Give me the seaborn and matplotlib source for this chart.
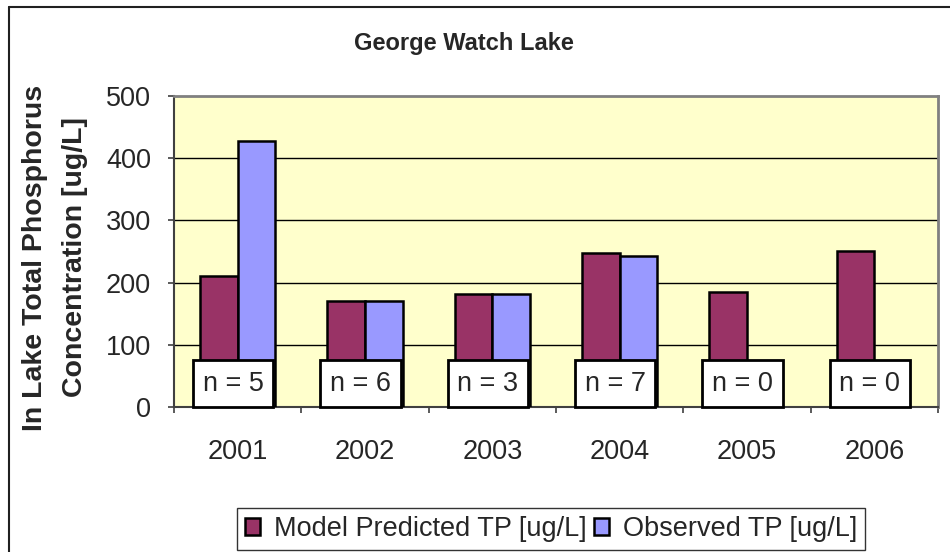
import numpy as np
import pandas as pd
import matplotlib
matplotlib.use("Agg")
import matplotlib.pyplot as plt
from matplotlib.patches import Rectangle
from matplotlib.lines import Line2D
import seaborn as sns

# --- data -------------------------------------------------------------
years = ["2001", "2002", "2003", "2004", "2005", "2006"]
model_tp = [210, 170, 181, 247, 185, 251]
observed_tp = [428, 170, 181, 243, np.nan, np.nan]
n_obs = [5, 6, 3, 7, 0, 0]
series_names = ["Model Predicted TP [ug/L]", "Observed TP [ug/L]"]
y_ticks = [0, 100, 200, 300, 400, 500]

df = pd.DataFrame({
    "year": years * 2,
    "value": model_tp + observed_tp,
    "series": [series_names[0]] * len(years) + [series_names[1]] * len(years),
})

# --- style ------------------------------------------------------------
sns.set_style("white")
plt.rcParams["font.family"] = ["Liberation Sans", "DejaVu Sans"]

MAROON = "#993366"
PERIWINKLE = "#9999FF"
PLOT_BG = "#FFFFCC"

fig = plt.figure(figsize=(9.5, 5.52), dpi=100)
W, H = 950, 552
ax = fig.add_axes([174 / W, 1 - 407 / H, (938 - 174) / W, (407 - 96) / H])
ax.set_facecolor(PLOT_BG)

sns.barplot(
    data=df, x="year", y="value", hue="series", hue_order=series_names,
    order=years, palette=[MAROON, PERIWINKLE], saturation=1,
    width=0.59, edgecolor="black", linewidth=1.8, errorbar=None, ax=ax,
    zorder=3,
)

ax.set_xlim(-0.5, len(years) - 0.5)
ax.set_ylim(0, 500)
ax.set_xlabel("")
ax.set_ylabel("")

# horizontal gridlines
for v in y_ticks[1:-1]:
    ax.axhline(v, color="black", lw=1.0, zorder=1)

# spines
for side in ("top", "right"):
    ax.spines[side].set_color("#808080")
    ax.spines[side].set_linewidth(2)
for side in ("left", "bottom"):
    ax.spines[side].set_color("#404040")
    ax.spines[side].set_linewidth(1.5)

# y axis
ax.set_yticks(y_ticks)
ax.set_yticklabels([str(t) for t in y_ticks], fontsize=19.5)
ax.tick_params(axis="y", direction="out", length=4.5, width=1.2,
               color="#404040", pad=12, left=True)

# x axis: ticks between categories, labels at category centres
ax.set_xticks(np.arange(-0.5, len(years), 1.0))
ax.set_xticklabels([])
ax.set_xticks(np.arange(len(years)), minor=True)
ax.set_xticklabels(years, minor=True, fontsize=19.5)
ax.tick_params(axis="x", which="major", direction="out", length=4.5,
               width=1.2, color="#404040", bottom=True)
ax.tick_params(axis="x", which="minor", length=0, pad=23, bottom=True)

# sample-count boxes at the foot of each year
box_w, box_h, shift = 0.63, 75, -0.035
for i, n in enumerate(n_obs):
    cx = i + shift
    ax.add_patch(Rectangle((cx - box_w / 2, 0), box_w, box_h,
                           facecolor="white", edgecolor="black", lw=2,
                           zorder=5, clip_on=False))
    ax.text(cx, box_h / 2, f"n = {n}", ha="center", va="center",
            fontsize=19.5, zorder=6)

# legend below the plot
handles, labels = ax.get_legend_handles_labels()
ax.legend_.remove()
leg = fig.legend(
    handles, labels, loc="center", bbox_to_anchor=(551 / W, 1 - 529 / H),
    ncol=2, fontsize=19.5, frameon=True, fancybox=False, edgecolor="black",
    handlelength=0.55, handleheight=0.55, handletextpad=0.5,
    columnspacing=0.3, borderpad=0.3, borderaxespad=0,
)
leg.get_frame().set_linewidth(1.0)

# title and y-axis title
fig.text(464 / W, 1 - 50 / H, "George Watch Lake", ha="center",
         va="baseline", fontsize=17, fontweight="bold")
fig.text(35 / W, 1 - 258 / H, "In Lake Total Phosphorus", rotation=90,
         ha="center", va="center", fontsize=20.5, fontweight="bold")
fig.text(75 / W, 1 - 257 / H, "Concentration [ug/L]", rotation=90,
         ha="center", va="center", fontsize=20.5, fontweight="bold")

# chart-area frame
fig.add_artist(Line2D([8.5 / W, 8.5 / W], [0, 1 - 7 / H], color="#202020",
                      lw=1.5, transform=fig.transFigure))
fig.add_artist(Line2D([8.5 / W, 1], [1 - 7 / H, 1 - 7 / H], color="#202020",
                      lw=1.5, transform=fig.transFigure))

fig.savefig("out.png", dpi=100, facecolor="white")
